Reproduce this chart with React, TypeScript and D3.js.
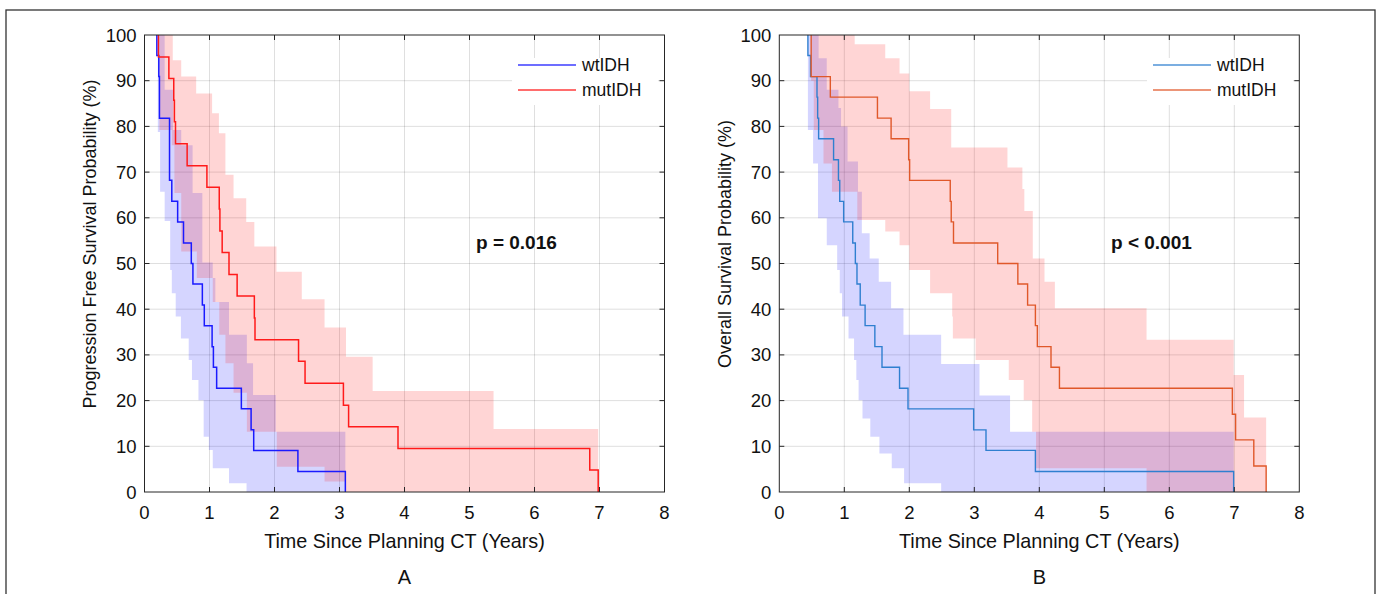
import * as d3 from "d3";

const W = 1381;
const H = 594;

// ---------- Panel A: progression free survival ----------
const pfsWtT = [0, 0.19, 0.22, 0.23, 0.385, 0.42, 0.51, 0.6, 0.72, 0.745, 0.89, 0.92, 1.04, 1.06, 1.11, 1.49, 1.64, 1.68, 2.36, 3.09];
const pfsWtS = [100, 95.5, 90.9, 81.8, 68.2, 63.6, 59.1, 54.5, 50.0, 45.5, 40.9, 36.4, 31.8, 27.3, 22.7, 18.2, 13.6, 9.1, 4.5, 0];
const pfsMutT = [0, 0.215, 0.375, 0.45, 0.46, 0.477, 0.656, 0.96, 1.15, 1.16, 1.195, 1.3, 1.425, 1.69, 1.7, 2.37, 2.47, 3.06, 3.14, 3.9, 6.85, 6.98];
const pfsMutS = [100, 95.2, 90.5, 85.7, 81.0, 76.2, 71.4, 66.7, 61.9, 57.1, 52.4, 47.6, 42.9, 38.1, 33.3, 28.6, 23.8, 19.0, 14.3, 9.5, 4.8, 0];

const pfsWtHiT = [0.19, 0.31, 0.44, 0.565, 0.74, 0.89, 1.05, 1.09, 1.3, 1.575, 1.67, 2.02];
const pfsWtHiV = [100, 88, 79.2, 75.9, 65.4, 50.2, 46.8, 41.6, 34.4, 28.2, 21.2, 13.2];
const pfsWtLoT = [0.19, 0.205, 0.24, 0.31, 0.395, 0.42, 0.48, 0.56, 0.68, 0.73, 0.83, 0.91, 0.99, 1.05, 1.3, 1.57];
const pfsWtLoV = [100, 78.8, 65.7, 59.3, 48.6, 43.5, 38.4, 33.6, 28.9, 24.5, 20.1, 12.1, 9.2, 5.2, 1.9, 0];
const pfsWtEnd = 3.09;

const pfsMutHiT = [0.2, 0.435, 0.565, 0.795, 1.04, 1.145, 1.245, 1.37, 1.565, 1.69, 2.03, 2.42, 2.77, 3.1, 3.51, 5.37];
const pfsMutHiV = [100, 94.5, 90.9, 87.2, 82.9, 78.5, 69.4, 64.3, 59.1, 53.7, 48.2, 42.2, 36, 29.6, 22.1, 13.8];
const pfsMutLoT = [0.2, 0.23, 0.42, 0.46, 0.565, 0.805, 1.05, 1.15, 1.245, 1.37, 1.575, 2.035, 2.77, 3.1];
const pfsMutLoV = [100, 79.2, 75.9, 65.4, 52.6, 46.8, 41.6, 34.4, 28.2, 21.7, 13.2, 5.5, 2.3, 0];
const pfsMutEnd = 6.98;

// ---------- Panel B: overall survival ----------
const osWtT = [0, 0.44, 0.48, 0.58, 0.59, 0.605, 0.835, 0.91, 0.93, 0.99, 1.13, 1.17, 1.195, 1.245, 1.32, 1.47, 1.58, 1.85, 1.98, 2.99, 3.18, 3.94, 6.99];
const osWtS = [100, 95.5, 90.9, 86.4, 81.8, 77.3, 72.7, 68.2, 63.6, 59.1, 54.5, 50.0, 45.5, 40.9, 36.4, 31.8, 27.3, 22.7, 18.2, 13.6, 9.1, 4.5, 0];
const osMutT = [0, 0.49, 0.785, 1.51, 1.72, 1.99, 2.005, 2.63, 2.645, 2.68, 3.36, 3.67, 3.82, 3.94, 3.97, 4.18, 4.31, 6.97, 7.02, 7.3, 7.49];
const osMutS = [100, 90.9, 86.4, 81.8, 77.3, 72.7, 68.2, 63.6, 59.1, 54.5, 50.0, 45.5, 40.9, 36.4, 31.8, 27.3, 22.7, 17.0, 11.4, 5.7, 0];

const osWtHiT = [0.44, 0.605, 0.73, 0.91, 0.95, 1.05, 1.21, 1.27, 1.39, 1.53, 1.72, 1.91, 2.49, 3.08, 3.55];
const osWtHiV = [100, 94.9, 88, 84, 80, 72.3, 65.7, 56.6, 51.1, 46, 40.2, 34.4, 28, 21.1, 13.2];
const osWtLoT = [0.44, 0.52, 0.595, 0.73, 0.89, 0.93, 0.965, 1.065, 1.15, 1.185, 1.22, 1.28, 1.4, 1.54, 1.73, 1.92, 2.49];
const osWtLoV = [79.2, 71.9, 59.9, 54, 48.6, 43.5, 38.4, 33.6, 28.9, 24.5, 20.1, 16.1, 12.1, 8.4, 5.2, 1.9, 0];
const osWtEnd = 6.99;

const osMutHiT = [0.49, 1.16, 1.63, 1.85, 2.0, 2.32, 2.645, 3.51, 3.74, 3.77, 3.9, 4.08, 4.24, 5.65, 6.99, 7.15];
const osMutHiV = [100, 98, 94.9, 91.6, 87.7, 83.8, 75.4, 71, 66.3, 61.5, 51.1, 46, 40.2, 33.3, 25.6, 16.3];
const osMutLoT = [0.49, 0.53, 0.68, 0.81, 1.2, 1.63, 1.85, 2.0, 2.32, 2.66, 2.67, 3.02, 3.53, 3.76, 3.89, 3.95, 5.65];
const osMutLoV = [90, 79.2, 71.9, 65.7, 59.5, 57, 54, 48.6, 43.5, 38.4, 33.6, 28.9, 24.5, 20.1, 13.2, 5.2, 0];
const osMutEnd = 7.49;

const xTicks = [0, 1, 2, 3, 4, 5, 6, 7, 8];
const yTicks = [0, 10, 20, 30, 40, 50, 60, 70, 80, 90, 100];
const seriesNames = ["wtIDH", "mutIDH"];

const FONT = "'Liberation Sans', Arial, Helvetica, sans-serif";
const AXIS = "#262626";
const TOP = 35;
const BOTTOM = 492;

type Band = { hiT: number[]; hiV: number[]; loT: number[]; loV: number[]; end: number };
type Curve = { t: number[]; s: number[] };

function stepAt(ts: number[], vs: number[], t: number) {
  const i = d3.bisectRight(ts, t) - 1;
  return vs[Math.max(0, i)];
}

function bandRows(b: Band) {
  const times = Array.from(new Set([...b.hiT, ...b.loT]))
    .sort((a, c) => a - c)
    .filter((t) => t < b.end);
  const rows = times.map((t) => ({ t, hi: stepAt(b.hiT, b.hiV, t), lo: stepAt(b.loT, b.loV, t) }));
  const last = rows[rows.length - 1];
  rows.push({ t: b.end, hi: last.hi, lo: last.lo });
  return rows;
}

// curve points; the flat part at 100% sits under the box, so start at the first drop
function curvePts(c: Curve): [number, number][] {
  const pts = c.t.map((t, i) => [t, c.s[i]] as [number, number]);
  pts[0] = [c.t[1], c.s[0]];
  return pts;
}

type PanelProps = {
  left: number;
  right: number;
  wt: Curve;
  mut: Curve;
  wtBand: Band;
  mutBand: Band;
  wtColor: string;
  mutColor: string;
  lineW: number;
  yLabel: string;
  letter: string;
  pText: string;
  pX: number;
  legendX: number;
};

function Panel(p: PanelProps) {
  const x = d3.scaleLinear().domain([0, 8]).range([p.left, p.right]);
  const y = d3.scaleLinear().domain([0, 100]).range([BOTTOM, TOP]);
  const cx = (p.left + p.right) / 2;

  const area = d3
    .area<{ t: number; hi: number; lo: number }>()
    .curve(d3.curveStepAfter)
    .x((d) => x(d.t))
    .y0((d) => y(d.lo))
    .y1((d) => y(d.hi));
  const line = d3
    .line<[number, number]>()
    .curve(d3.curveStepAfter)
    .x((d) => x(d[0]))
    .y((d) => y(d[1]));

  return (
    <g>
      {/* grid */}
      {xTicks.slice(1, -1).map((t) => (
        <line key={"gx" + t} x1={x(t)} x2={x(t)} y1={TOP} y2={BOTTOM} stroke={AXIS} strokeOpacity={0.15} />
      ))}
      {yTicks.slice(1, -1).map((t) => (
        <line key={"gy" + t} x1={p.left} x2={p.right} y1={y(t)} y2={y(t)} stroke={AXIS} strokeOpacity={0.15} />
      ))}

      {/* confidence bands */}
      <path d={area(bandRows(p.wtBand)) ?? ""} fill="#0000ff" fillOpacity={0.165} />
      <path d={area(bandRows(p.mutBand)) ?? ""} fill="#ff0000" fillOpacity={0.165} />

      {/* survival curves */}
      <path d={line(curvePts(p.wt)) ?? ""} fill="none" stroke={p.wtColor} strokeWidth={p.lineW} />
      <path d={line(curvePts(p.mut)) ?? ""} fill="none" stroke={p.mutColor} strokeWidth={p.lineW} />

      {/* legend */}
      <rect x={p.legendX - 6} y={58} width={146} height={47} fill="#fff" />
      {seriesNames.map((name, i) => (
        <g key={name}>
          <line
            x1={p.legendX}
            x2={p.legendX + 58}
            y1={65 + i * 25}
            y2={65 + i * 25}
            stroke={i === 0 ? p.wtColor : p.mutColor}
            strokeWidth={1.3}
            strokeOpacity={0.85}
          />
          <text x={p.legendX + 64} y={71 + i * 25} fontSize={17.5} fill="#111">
            {name}
          </text>
        </g>
      ))}

      {/* box + ticks */}
      <rect x={p.left} y={TOP} width={p.right - p.left} height={BOTTOM - TOP} fill="none" stroke={AXIS} strokeWidth={1} />
      {xTicks.slice(1, -1).map((t) => (
        <g key={"tx" + t}>
          <line x1={x(t)} x2={x(t)} y1={BOTTOM} y2={BOTTOM - 5} stroke={AXIS} />
          <line x1={x(t)} x2={x(t)} y1={TOP} y2={TOP + 5} stroke={AXIS} />
        </g>
      ))}
      {yTicks.slice(1, -1).map((t) => (
        <g key={"ty" + t}>
          <line x1={p.left} x2={p.left + 5} y1={y(t)} y2={y(t)} stroke={AXIS} />
          <line x1={p.right} x2={p.right - 5} y1={y(t)} y2={y(t)} stroke={AXIS} />
        </g>
      ))}
      {xTicks.map((t) => (
        <text key={"lx" + t} x={x(t)} y={519} fontSize={18.5} textAnchor="middle" fill="#111">
          {t}
        </text>
      ))}
      {yTicks.map((t) => (
        <text key={"ly" + t} x={p.left - 8} y={y(t) + 6.5} fontSize={18.5} textAnchor="end" fill="#111">
          {t}
        </text>
      ))}

      {/* labels */}
      <text x={cx} y={548} fontSize={19.8} textAnchor="middle" fill="#111">
        Time Since Planning CT (Years)
      </text>
      <text
        transform={`translate(${p.left - 55},244) rotate(-90)`}
        dy="0.35em"
        fontSize={18}
        textAnchor="middle"
        fill="#111"
      >
        {p.yLabel}
      </text>
      <text x={p.pX} y={249} fontSize={19} fontWeight="bold" fill="#111">
        {p.pText}
      </text>
      <text x={cx} y={584} fontSize={20} textAnchor="middle" fill="#111">
        {p.letter}
      </text>
    </g>
  );
}

export default function App() {
  return (
    <svg
      width={W}
      height={H}
      style={{ position: "absolute", left: 0, top: 0, background: "#fff" }}
      fontFamily={FONT}
    >
      <rect x={6} y={10} width={1369} height={H + 20} fill="#fff" stroke="#333" strokeWidth={1.3} />
      <Panel
        left={144.5}
        right={664.5}
        wt={{ t: pfsWtT, s: pfsWtS }}
        mut={{ t: pfsMutT, s: pfsMutS }}
        wtBand={{ hiT: pfsWtHiT, hiV: pfsWtHiV, loT: pfsWtLoT, loV: pfsWtLoV, end: pfsWtEnd }}
        mutBand={{ hiT: pfsMutHiT, hiV: pfsMutHiV, loT: pfsMutLoT, loV: pfsMutLoV, end: pfsMutEnd }}
        wtColor="#1a1aff"
        mutColor="#ff1a1a"
        lineW={1.5}
        yLabel="Progression Free Survival Probability (%)"
        letter="A"
        pText="p = 0.016"
        pX={476}
        legendX={518}
      />
      <Panel
        left={779.3}
        right={1299.3}
        wt={{ t: osWtT, s: osWtS }}
        mut={{ t: osMutT, s: osMutS }}
        wtBand={{ hiT: osWtHiT, hiV: osWtHiV, loT: osWtLoT, loV: osWtLoV, end: osWtEnd }}
        mutBand={{ hiT: osMutHiT, hiV: osMutHiV, loT: osMutLoT, loV: osMutLoV, end: osMutEnd }}
        wtColor="#2f7fd0"
        mutColor="#e0582a"
        lineW={1.4}
        yLabel="Overall Survival Probability (%)"
        letter="B"
        pText="p < 0.001"
        pX={1111}
        legendX={1153}
      />
    </svg>
  );
}
